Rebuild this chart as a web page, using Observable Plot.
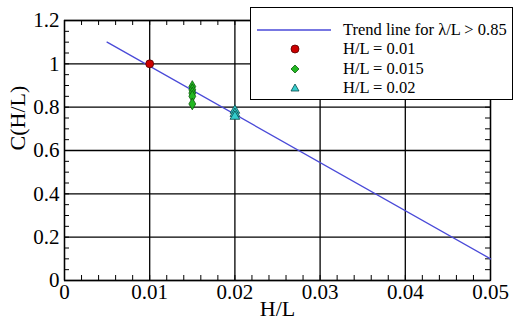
<!DOCTYPE html>
<html><head><meta charset="utf-8">
<script src="https://cdn.jsdelivr.net/npm/d3@7"></script>
<script src="https://cdn.jsdelivr.net/npm/@observablehq/plot@0.6"></script>
<style>
body{margin:0;background:#fff;}
#wrap{position:relative;width:521px;height:322px;}
#legend{position:absolute;left:250px;top:7px;width:261px;height:91px;border:1px solid #000;background:#fff;font-family:"Liberation Serif",serif;font-size:16.5px;color:#000;}
#legend .row{position:absolute;left:0;height:19px;line-height:19px;white-space:nowrap;}
#legend svg{position:absolute;left:0;top:0;}
</style></head>
<body><div id="wrap"></div>
<script>
// Data
const xTicks = [0, 0.01, 0.02, 0.03, 0.04, 0.05];
const yTicks = [0, 0.2, 0.4, 0.6, 0.8, 1, 1.2];
const xMinor = d3.range(0, 0.0501, 0.002);
const yMinor = d3.range(0, 1.2001, 0.05);
const trendX = [0.005, 0.05];
const trendY = [1.1, 0.1];
const hl01X = [0.01];
const hl01Y = [1.0];
const hl015X = [0.015, 0.015, 0.015, 0.015, 0.015];
const hl015Y = [0.895, 0.88, 0.865, 0.85, 0.815];
const hl02X = [0.02, 0.02, 0.02];
const hl02Y = [0.785, 0.77, 0.757];
const legendLabels = ["Trend line for \u03bb/L > 0.85", "H/L = 0.01", "H/L = 0.015", "H/L = 0.02"];

const zip = (xs, ys) => xs.map((x, i) => ({x, y: ys[i]}));
const trend = zip(trendX, trendY);
const s1 = zip(hl01X, hl01Y), s2 = zip(hl015X, hl015Y), s3 = zip(hl02X, hl02Y);
const fmt = d => String(+(+d).toFixed(3));
const serif = "'Liberation Serif', serif";

const W = 521, H = 322, mL = 64, mR = 31, mT = 20, mB = 42;
const pw = W - mL - mR, ph = H - mT - mB, tl = 5;

const plot = Plot.plot({
  width: W, height: H,
  marginLeft: mL, marginRight: mR, marginTop: mT, marginBottom: mB,
  style: {fontFamily: serif, fontSize: "21px", background: "white", color: "black"},
  x: {domain: [0, 0.05]},
  y: {domain: [0, 1.2]},
  marks: [
    Plot.ruleX(xTicks, {stroke: "black", strokeWidth: 1.3}),
    Plot.ruleY(yTicks, {stroke: "black", strokeWidth: 1.3}),
    Plot.tickX(xMinor, {x: d => d, stroke: "black", insetTop: ph - tl}),
    Plot.tickX(xMinor, {x: d => d, stroke: "black", insetBottom: ph - tl}),
    Plot.tickY(yMinor, {y: d => d, stroke: "black", insetRight: pw - tl}),
    Plot.tickY(yMinor, {y: d => d, stroke: "black", insetLeft: pw - tl}),
    Plot.frame({stroke: "black", strokeWidth: 1.3}),
    Plot.axisX({ticks: xTicks, tickSize: 0, tickPadding: 4, tickFormat: fmt, label: null, fontSize: 21, fontFamily: serif, fontVariant: "normal"}),
    Plot.axisY({ticks: yTicks, tickSize: 0, tickPadding: 5, tickFormat: fmt, label: null, fontSize: 21, fontFamily: serif, fontVariant: "normal"}),
    Plot.text(["H/L"], {frameAnchor: "bottom", dy: 35, fontSize: 22, fontFamily: serif, text: d => d}),
    Plot.text(["C(H/L)"], {frameAnchor: "left", dx: -47, rotate: -90, fontSize: 22, fontFamily: serif, text: d => d}),
    Plot.line(trend, {x: "x", y: "y", stroke: "#4a4ad8", strokeWidth: 1.3}),
    Plot.dot(s1, {x: "x", y: "y", r: 4, fill: "#cc0000", stroke: "#550000", strokeWidth: 0.8}),
    Plot.dot(s2, {x: "x", y: "y", symbol: "diamond", r: 3.6, fill: "#22b822", stroke: "#0a5a0a", strokeWidth: 0.8}),
    Plot.dot(s3, {x: "x", y: "y", symbol: "triangle", r: 3.6, fill: "#33cccc", stroke: "#0a4a4a", strokeWidth: 0.8})
  ]
});
const wrap = document.getElementById("wrap");
wrap.appendChild(plot);

// Legend
const leg = document.createElement("div");
leg.id = "legend";
const ns = "http://www.w3.org/2000/svg";
const svg = document.createElementNS(ns, "svg");
svg.setAttribute("width", 261); svg.setAttribute("height", 91);
const rowsY = [22, 41, 61, 80];
svg.innerHTML =
  `<line x1="6" x2="80" y1="${rowsY[0]}" y2="${rowsY[0]}" stroke="#4a4ad8" stroke-width="1.3"/>` +
  `<circle cx="44" cy="${rowsY[1]}" r="4" fill="#cc0000" stroke="#550000" stroke-width="0.8"/>` +
  `<path d="M44,${rowsY[2]-4}L48,${rowsY[2]}L44,${rowsY[2]+4}L40,${rowsY[2]}Z" fill="#22b822" stroke="#0a5a0a" stroke-width="0.8"/>` +
  `<path d="M44,${rowsY[3]-4}L48,${rowsY[3]+3}L40,${rowsY[3]+3}Z" fill="#33cccc" stroke="#0a4a4a" stroke-width="0.8"/>`;
leg.appendChild(svg);
legendLabels.forEach((t, i) => {
  const r = document.createElement("div");
  r.className = "row";
  r.style.left = "92px";
  r.style.top = (rowsY[i] - 10) + "px";
  r.textContent = t;
  leg.appendChild(r);
});
wrap.appendChild(leg);
</script></body></html>
